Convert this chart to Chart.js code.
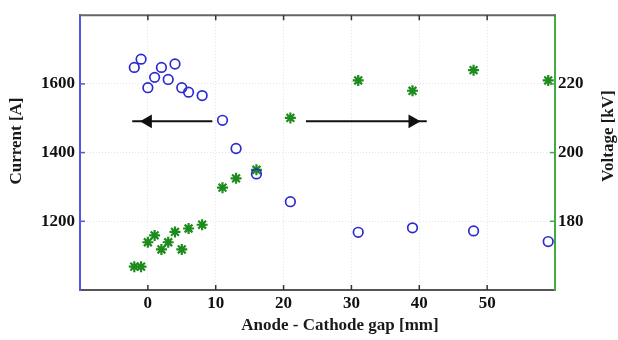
<!DOCTYPE html>
<html>
<head>
<meta charset="utf-8">
<script src="https://cdn.jsdelivr.net/npm/chart.js@4.4.1/dist/chart.umd.min.js"></script>
<style>
  body { margin: 0; background: #fff; }
  #wrap { width: 618px; height: 340px; }
</style>
</head>
<body>
<div id="wrap"><canvas id="root"></canvas></div>
<script>
// gap in mm, current in A, voltage in kV
const gap = [-2, -1, 0, 1, 2, 3, 4, 5, 6, 8, 11, 13, 16, 21, 31, 39, 48, 59]
const current = [1648, 1672, 1589, 1619, 1648, 1613, 1658, 1589, 1576, 1566, 1494, 1412, 1338, 1257, 1168, 1181, 1172, 1141]
const voltage = [166.8, 166.8, 173.9, 175.9, 171.8, 173.9, 176.9, 171.8, 177.9, 179, 189.8, 192.5, 195, 210.1, 221, 218, 224, 221]

// arrows: start, head, tip (x in mm), drawn at current level arrowY
const arrowLeftX = [9.5, 0, -2.3]
const arrowRightX = [23.3, 39, 41.1]
const arrowY = 1491

const xTicks = [0, 10, 20, 30, 40, 50]
const currentTicks = [1200, 1400, 1600]
const voltageTicks = [180, 200, 220]

const font = { family: 'Liberation Serif', weight: 'bold', size: 17 }

const toPts = (xs, ys) => xs.map((x, i) => ({ x: x, y: Array.isArray(ys) ? ys[i] : ys }))

const arrowSet = (xs, rot) => ({
    type: 'line',
    data: toPts(xs, arrowY),
    yAxisID: 'y',
    borderColor: '#111',
    borderWidth: 2,
    showLine: true,
    pointStyle: 'triangle',
    pointRadius: [0, 6.5, 0],
    pointRotation: [0, rot, 0],
    pointBackgroundColor: '#111',
    pointBorderColor: '#111',
    pointBorderWidth: 1.5
})

// inward ticks, top border and the axis titles
const frame = {
    id: 'frame',
    afterDraw(chart) {
        const c = chart.ctx
        const a = chart.chartArea
        const sx = chart.scales.x, sy = chart.scales.y, sv = chart.scales.y1
        c.save()
        c.strokeStyle = '#666'
        c.lineWidth = 2
        c.beginPath()
        c.moveTo(a.left - 1, a.top)
        c.lineTo(a.right, a.top)
        c.stroke()

        c.lineWidth = 1.5
        c.strokeStyle = '#333'
        xTicks.forEach(v => {
            const px = sx.getPixelForValue(v)
            c.beginPath()
            c.moveTo(px, a.top); c.lineTo(px, a.top + 5)
            c.moveTo(px, a.bottom); c.lineTo(px, a.bottom - 5)
            c.stroke()
        })
        c.strokeStyle = '#5555dd'
        currentTicks.forEach(v => {
            const py = sy.getPixelForValue(v)
            c.beginPath(); c.moveTo(a.left, py); c.lineTo(a.left + 5, py); c.stroke()
        })
        c.strokeStyle = '#44aa44'
        voltageTicks.forEach(v => {
            const py = sv.getPixelForValue(v)
            c.beginPath(); c.moveTo(a.right, py); c.lineTo(a.right - 5, py); c.stroke()
        })

        c.fillStyle = '#1a1a1a'
        c.font = 'bold 17px "Liberation Serif"'
        c.textAlign = 'center'
        c.textBaseline = 'middle'
        c.fillText('Anode - Cathode gap [mm]', 340, 326)
        c.save()
        c.translate(17, 141)
        c.rotate(-Math.PI / 2)
        c.fillText('Current [A]', 0, 0)
        c.restore()
        c.save()
        c.translate(609, 136)
        c.rotate(-Math.PI / 2)
        c.fillText('Voltage [kV]', 0, 0)
        c.restore()
        c.restore()
    }
}

const gridColor = (lo, hi) => ctx => (ctx.tick && (ctx.tick.value <= lo || ctx.tick.value >= hi)) ? 'rgba(0,0,0,0)' : '#e2e2ea'

let ctx = document.getElementById('root').getContext('2d')

let config = {
    type: 'scatter',
    data: {
        datasets: [
            {
                label: 'Current',
                data: toPts(gap, current),
                yAxisID: 'y',
                pointStyle: 'circle',
                pointRadius: 4.8,
                borderWidth: 1.7,
                borderColor: '#2b2bd0',
                backgroundColor: 'rgba(0,0,0,0)'
            },
            {
                label: 'Voltage',
                data: toPts(gap, voltage),
                yAxisID: 'y1',
                pointStyle: 'star',
                pointRadius: 5.5,
                borderWidth: 2.2,
                borderColor: '#1d8c1d',
                backgroundColor: '#1d8c1d'
            },
            arrowSet(arrowLeftX, -90),
            arrowSet(arrowRightX, 90)
        ]
    },
    options: {
        responsive: true,
        maintainAspectRatio: false,
        animation: false,
        layout: { padding: { top: 14, left: 0, right: 0, bottom: 0 } },
        plugins: { legend: { display: false }, tooltip: { enabled: false } },
        scales: {
            x: {
                type: 'linear',
                min: -10, max: 60,
                afterFit: s => { s.height = 50 },
                ticks: {
                    stepSize: 10, padding: 3, color: '#111', font: font,
                    callback: v => (v < 0 || v > 50) ? '' : v
                },
                grid: { color: gridColor(-10, 60), drawTicks: false },
                border: { color: '#555', width: 2, dash: [1, 2] }
            },
            y: {
                position: 'left',
                min: 1000, max: 1800,
                afterFit: s => { s.width = 80 },
                ticks: {
                    stepSize: 200, padding: 5, color: '#111', font: font,
                    callback: v => (v <= 1000 || v >= 1800) ? '' : v
                },
                grid: { color: gridColor(1000, 1800), drawTicks: false },
                border: { color: '#5555dd', width: 2, dash: [1, 2] }
            },
            y1: {
                position: 'right',
                min: 160, max: 240,
                afterFit: s => { s.width = 63 },
                ticks: {
                    stepSize: 20, padding: 3, color: '#111', font: font,
                    callback: v => (v <= 160 || v >= 240) ? '' : v
                },
                grid: { drawOnChartArea: false, drawTicks: false },
                border: { color: '#44aa44', width: 2 }
            }
        }
    },
    plugins: [frame]
}

let myChart = new Chart(ctx, config)
</script>
</body>
</html>
